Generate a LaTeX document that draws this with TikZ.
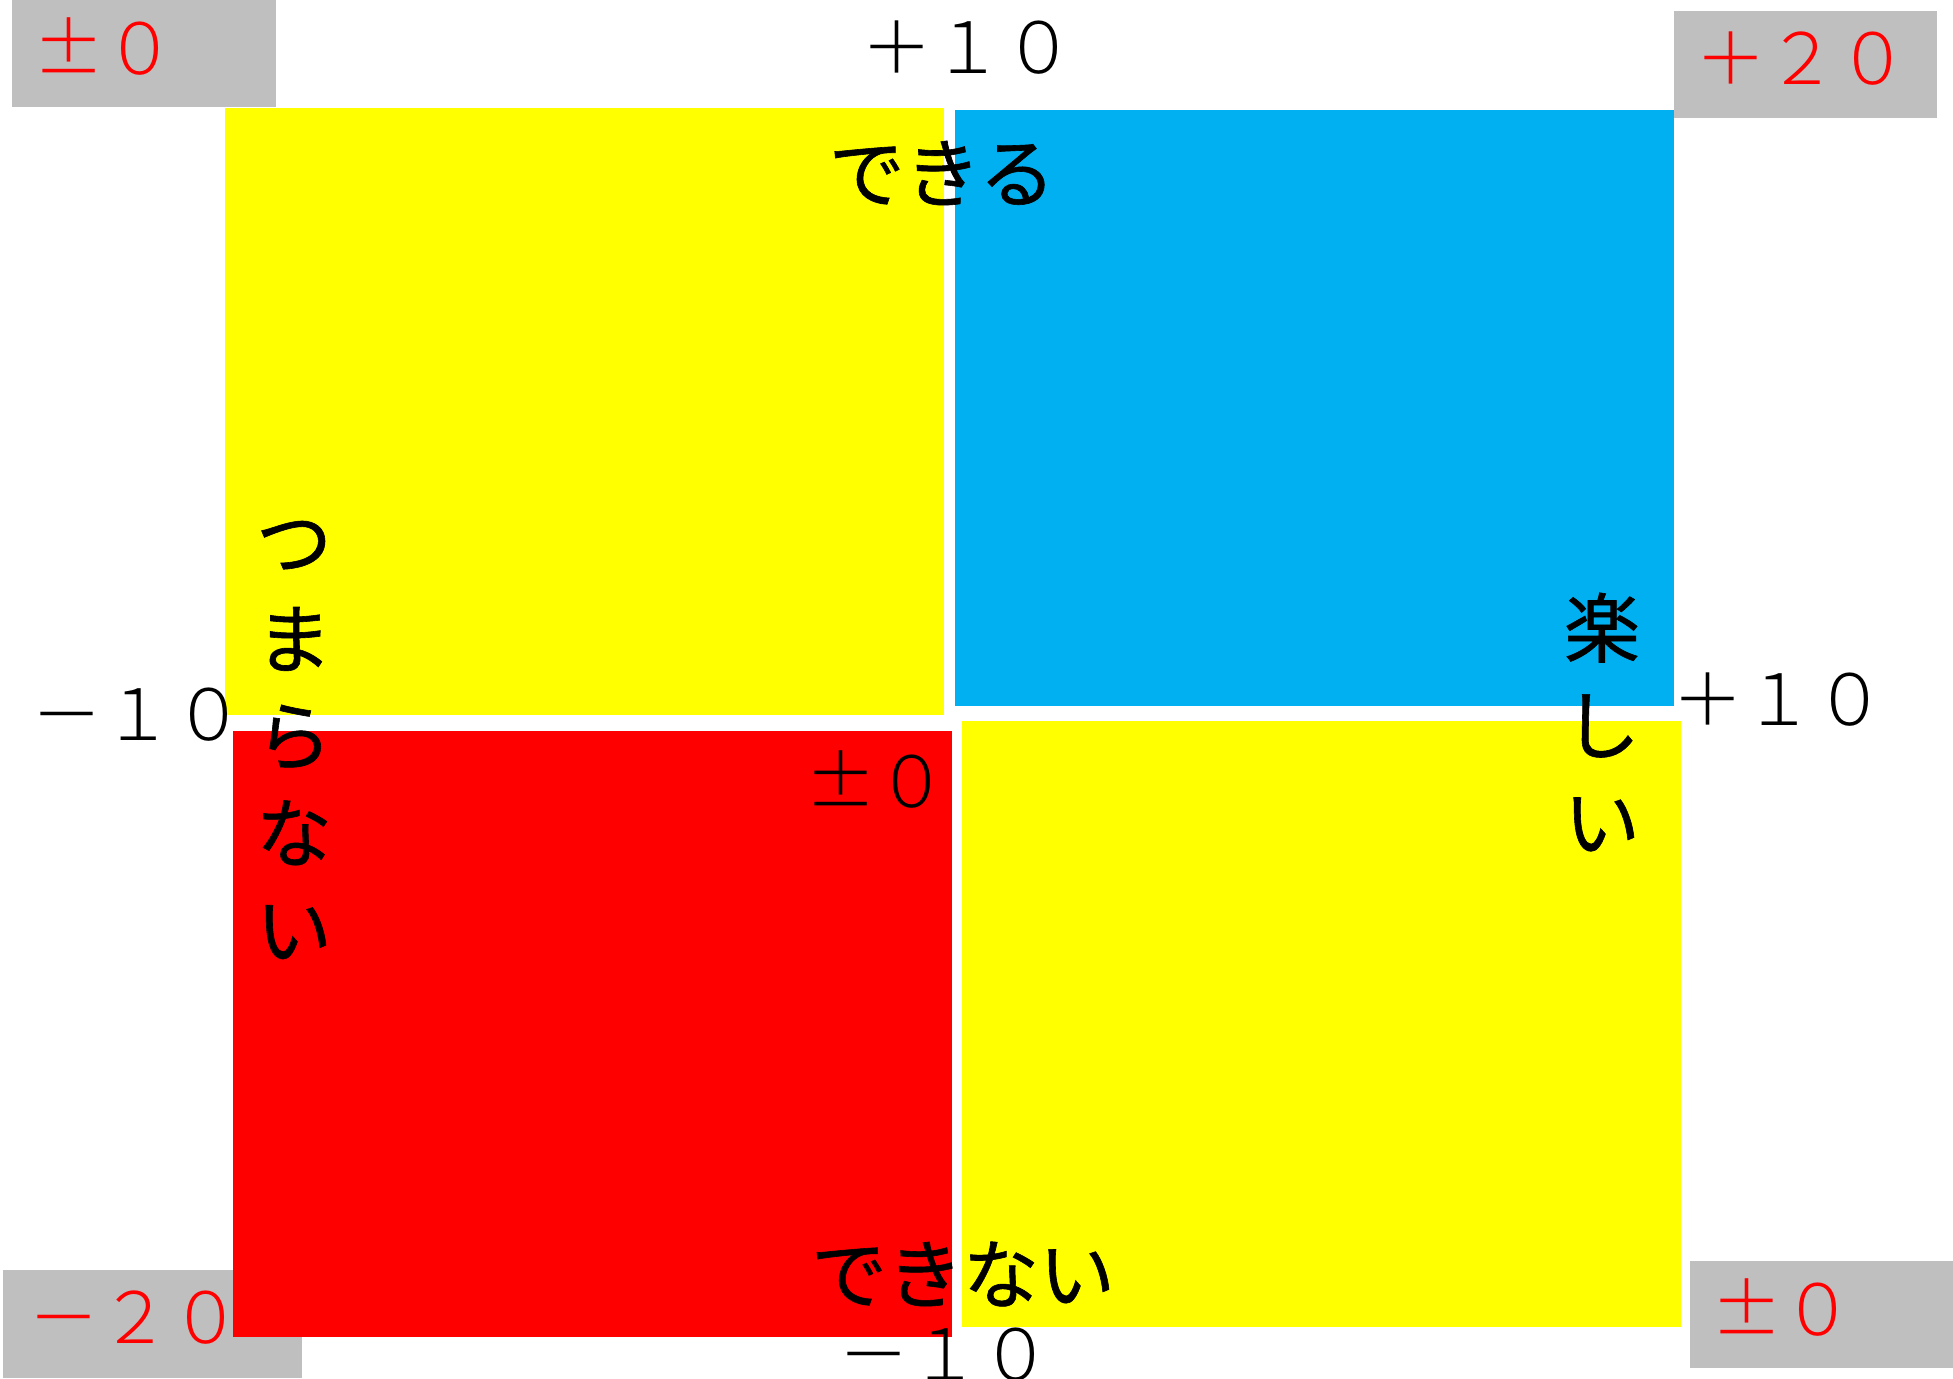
\documentclass[tikz,border=0pt]{standalone}
\usepackage{fontspec}
\newfontfamily\jp[CharacterWidth=Full]{Noto Sans CJK JP Light}
\newfontfamily\jpb[FakeBold=0.8]{Noto Sans CJK JP}
\definecolor{qyellow}{HTML}{FFFF00}
\definecolor{qblue}{HTML}{00B0F0}
\definecolor{qred}{HTML}{FF0000}
\definecolor{qgray}{HTML}{BFBFBF}
\tikzset{
  numlbl/.style={inner sep=0pt, anchor=base west, font=\jp\fontsize{71}{71}\selectfont},
  rednum/.style={numlbl, text=qred},
  jplbl/.style={inner sep=0pt, anchor=center, font=\jpb\fontsize{76}{97}\selectfont, align=center},
}
\begin{document}
\begin{tikzpicture}[x=1pt,y=-1pt]
\useasboundingbox (0,0) rectangle (1953,1378);
\fill[white] (0,0) rectangle (1953,1378);
% gray corner boxes
\fill[qgray] (12,0) rectangle (276,107);
\fill[qgray] (1674,11) rectangle (1937,118);
\fill[qgray] (3,1270) rectangle (302,1378);
\fill[qgray] (1690,1261) rectangle (1953,1368);
% quadrants
\fill[qyellow] (225,108) rectangle (944,715);
\fill[qblue] (955,110) rectangle (1674,706);
\fill[qred] (233,731) rectangle (952,1337);
\fill[qyellow] (962,721) rectangle (1681,1327);
% numeric labels
\node[rednum] (tl) at (33,75) {±０};
\node[numlbl] (top) at (861,74) {＋１０};
\node[rednum] (tr) at (1695,85) {＋２０};
\node[numlbl] (left) at (31,740) {－１０};
\node[numlbl] (right) at (1672,725) {＋１０};
\node[numlbl] (mid) at (805,807) {±０};
\node[numlbl] (bottom) at (838,1380) {－１０};
\node[rednum] (bl) at (28,1343) {－２０};
\node[rednum] (br) at (1711,1335) {±０};
% japanese labels
\node[jplbl] (dekiru) at (942,173) {できる};
\node[jplbl] (dekinai) at (963,1274) {できない};
\node[jplbl] (tsumaranai) at (294,740) {つ\\ま\\ら\\な\\い};
\node[jplbl] (tanoshii) at (1602,722) {楽\\し\\い};
\end{tikzpicture}
\end{document}
